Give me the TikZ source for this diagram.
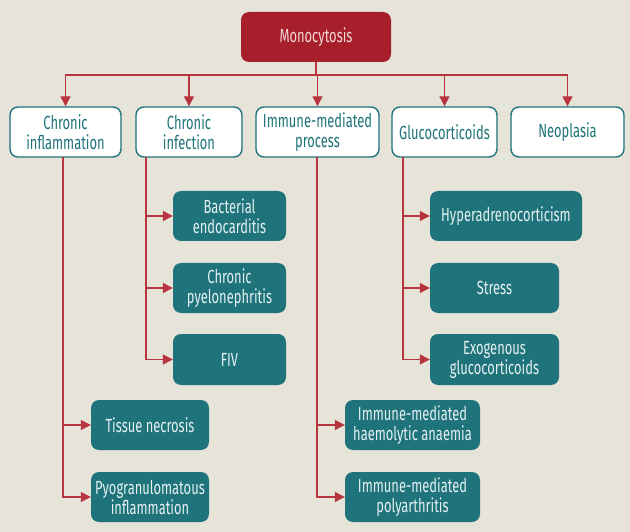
\documentclass[tikz,border=0pt]{standalone}
\usepackage{fontspec}
\setmainfont{Fira Sans}[FakeStretch=0.68]
\usetikzlibrary{arrows.meta,calc}
\definecolor{bg}{HTML}{E6E3D8}
\definecolor{redbox}{HTML}{A61F2A}
\definecolor{teal}{HTML}{1F737A}
\definecolor{linered}{HTML}{B8343E}
\definecolor{lighttxt}{HTML}{E4F0F1}
\definecolor{pinktxt}{HTML}{F4D6D6}
\begin{document}
\begin{tikzpicture}[x=1pt,y=-1pt,
  base/.style={rounded corners=8pt,align=center,inner sep=0pt,font=\fontsize{19}{20}\selectfont},
  rootbox/.style={base,fill=redbox,text=pinktxt,minimum width=150pt,minimum height=50pt},
  catbox/.style={base,fill=white,draw=teal,line width=1.4pt,text=teal,minimum height=50pt},
  leafbox/.style={base,fill=teal,text=lighttxt,minimum height=50pt},
  arr/.style={draw=linered,line width=1.3pt,-{Triangle[length=10pt,width=10pt]}}]
\fill[bg] (0,0) rectangle (630,532);
\useasboundingbox (0,0) rectangle (630,532);
\node[rootbox] (mono) at (316,37) {Monocytosis};
\node[catbox,minimum width=111pt] (cinfl) at (65.5,132) {Chronic\\inflammation};
\node[catbox,minimum width=106pt] (cinfe) at (189,132) {Chronic\\infection};
\node[catbox,minimum width=123pt] (imm) at (317.5,132) {Immune-mediated\\process};
\node[catbox,minimum width=105pt] (gluco) at (444.5,132) {Glucocorticoids};
\node[catbox,minimum width=113pt] (neo) at (567.5,132) {Neoplasia};
\node[leafbox,minimum width=113pt] (bact) at (229.5,216) {Bacterial\\endocarditis};
\node[leafbox,minimum width=113pt] (pyelo) at (229.5,288) {Chronic\\pyelonephritis};
\node[leafbox,minimum width=113pt,minimum height=51pt] (fiv) at (229.5,359.5) {FIV};
\node[leafbox,minimum width=152pt] (hyper) at (506,216) {Hyperadrenocorticism};
\node[leafbox,minimum width=129pt] (stress) at (494.5,288) {Stress};
\node[leafbox,minimum width=129pt,minimum height=51pt] (exo) at (494.5,359.5) {Exogenous\\glucocorticoids};
\node[leafbox,minimum width=118pt] (tissue) at (150,425) {Tissue necrosis};
\node[leafbox,minimum width=118pt] (pyogr) at (150,497) {Pyogranulomatous\\inflammation};
\node[leafbox,minimum width=135pt] (imha) at (412.5,425) {Immune-mediated\\haemolytic anaemia};
\node[leafbox,minimum width=135pt] (impa) at (412.5,497) {Immune-mediated\\polyarthritis};
\coordinate (bus) at (316,75);
\coordinate (v1) at (63,157);
\coordinate (v2) at (146,157);
\coordinate (v3) at (317,157);
\coordinate (v4) at (403,157);
\foreach \c in {cinfl,cinfe,imm,gluco,neo}
  \draw[arr] (mono.south) -- (bus) -| (\c.north);
\draw[arr] (v1) |- (tissue.west);
\draw[arr] (v1) |- (pyogr.west);
\draw[arr] (v2) |- (bact.west);
\draw[arr] (v2) |- (pyelo.west);
\draw[arr] (v2) |- (fiv.west);
\draw[arr] (v3) |- (imha.west);
\draw[arr] (v3) |- (impa.west);
\draw[arr] (v4) |- (hyper.west);
\draw[arr] (v4) |- (stress.west);
\draw[arr] (v4) |- (exo.west);
\end{tikzpicture}
\end{document}
